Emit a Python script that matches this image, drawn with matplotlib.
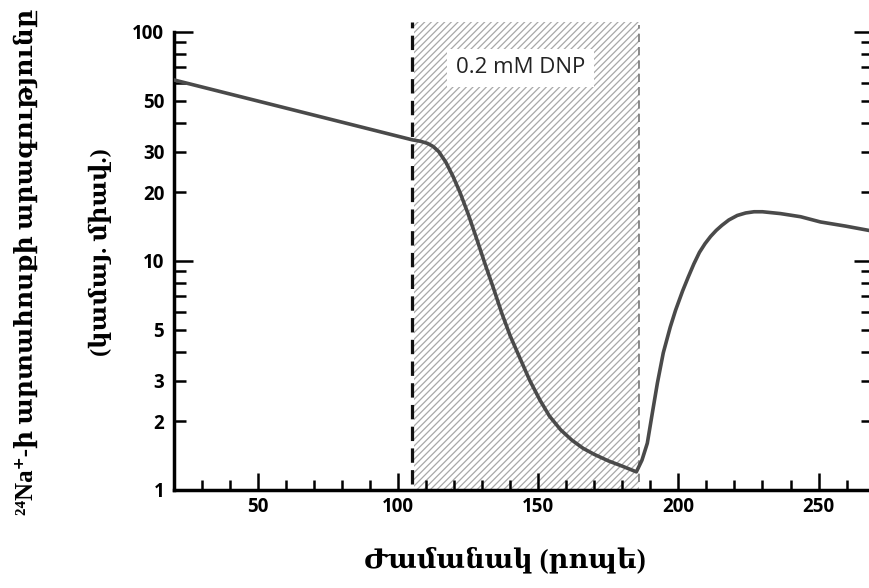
import matplotlib
matplotlib.use("Agg")
import matplotlib.pyplot as plt
from matplotlib.ticker import FixedLocator, FuncFormatter, NullFormatter
import matplotlib.patches as patches

# curve (time in min, efflux on log scale)
time_min = [20, 105, 108, 110.5, 112.5, 114.5, 117, 119.5, 122, 125, 128, 131,
            134, 137, 140, 143.5, 147, 150.5, 154, 158, 162, 166, 170, 175,
            180, 185, 187, 188.9, 190.7, 192.5, 194.6, 197.1, 199, 201.5,
            203.5, 205.5, 207.5, 209.5, 211.5, 213.5, 215.5, 218, 221,
            224, 227, 230, 236.4, 243.6, 250.7, 259.6, 269.3]
efflux = [61.7, 33.8, 33.3, 32.6, 31.6, 30.0, 27.0, 23.5, 20.0, 16.0, 12.5, 9.7,
          7.6, 5.9, 4.7, 3.75, 3.0, 2.48, 2.1, 1.83, 1.65, 1.52, 1.43, 1.34,
          1.27, 1.20, 1.35, 1.60, 2.17, 2.93, 3.97, 5.15, 6.1, 7.4,
          8.5, 9.7, 10.9, 11.9, 12.8, 13.6, 14.3, 15.1, 15.8,
          16.2, 16.4, 16.4, 16.1, 15.6, 14.8, 14.2, 13.5]

dnp_start = 105
dnp_end = 186
dnp_label = "0.2 mM DNP"

y_major = [1, 10, 100]
y_minor = [2, 3, 4, 5, 6, 7, 8, 9, 20, 30, 40, 50, 60, 70, 80, 90]
y_labeled = [1, 2, 3, 5, 10, 20, 30, 50, 100]
x_major = [50, 100, 150, 200, 250]
x_minor = [30, 40, 60, 70, 80, 90, 110, 120, 130, 140, 160, 170, 180, 190,
           210, 220, 230, 240, 260]

ylabel_1 = "²⁴Na⁺-ի արտահոսքի արագությունը"
ylabel_2 = "(կամայ. միավ.)"
xlabel = "Ժամանակ (րոպե)"

SERIF = ["Liberation Serif", "DejaVu Serif"]

plt.rcParams["hatch.linewidth"] = 0.9
plt.rcParams["hatch.color"] = "#a8a8a8"

fig = plt.figure(figsize=(8.7, 5.88), dpi=100)
ax = fig.add_axes([0.2, 0.1667, 1.003 - 0.2, 0.779])

ax.set_yscale("log")
ax.set_xlim(20, 269.3)
ax.set_ylim(1, 100)

# DNP period: hatched box plus dashed borders
rect = patches.Rectangle(
    (dnp_start + 0.8, 1), dnp_end - dnp_start - 0.8, 109,
    facecolor="white", edgecolor="#a8a8a8", hatch="/////", lw=0,
    clip_on=False, zorder=1,
)
ax.add_patch(rect)
ax.plot([dnp_start, dnp_start], [1.06, 110], color="#111111", lw=2.3,
        linestyle=(0, (4.5, 2.3)), clip_on=False, zorder=3)
ax.plot([dnp_end, dnp_end], [1.08, 107], color="#777777", lw=1.2,
        linestyle=(0, (5, 3)), clip_on=False, zorder=3)

ax.text(143.6, 69.6, dnp_label, ha="center", va="center", fontsize=16,
        family="Open Sans", color="#222222", zorder=5,
        bbox=dict(boxstyle="square,pad=0.4", facecolor="white", edgecolor="none"))

ax.plot(time_min, efflux, color="#4a4a4a", lw=2.6, solid_capstyle="round",
        solid_joinstyle="round", zorder=4)

ax.spines["top"].set_visible(False)
for side in ["left", "bottom", "right"]:
    ax.spines[side].set_linewidth(2.5)
ax.spines["right"].set_color("#555555")

ax.yaxis.set_major_locator(FixedLocator(y_major))
ax.yaxis.set_minor_locator(FixedLocator(y_minor))
fmt = FuncFormatter(lambda v, _: f"{v:g}" if round(v) in y_labeled else "")
ax.yaxis.set_major_formatter(fmt)
ax.yaxis.set_minor_formatter(fmt)
ax.xaxis.set_major_locator(FixedLocator(x_major))
ax.xaxis.set_minor_locator(FixedLocator(x_minor))
ax.xaxis.set_minor_formatter(NullFormatter())

ax.tick_params(axis="both", which="both", direction="in", width=1.8,
               labelsize=13.5, right=True, labelright=False)
ax.tick_params(axis="y", which="major", length=14, pad=7)
ax.tick_params(axis="y", which="minor", length=8.5, pad=7)
ax.tick_params(axis="x", which="major", length=12, pad=5)
ax.tick_params(axis="x", which="minor", length=7)
for lab in ax.get_xticklabels() + ax.get_yticklabels(which="both"):
    lab.set_family("Open Sans")
    lab.set_fontweight("bold")

fig.text(0.029, 0.554, ylabel_1, rotation=90, ha="center", va="center",
         fontsize=18, fontweight="bold", family=SERIF)
fig.text(0.115, 0.571, ylabel_2, rotation=90, ha="center", va="center",
         fontsize=17.5, fontweight="bold", family=SERIF)
fig.text(0.5805, 0.0476, xlabel, ha="center", va="center",
         fontsize=19.5, fontweight="bold", family=SERIF)

fig.savefig("out.png", dpi=100)
